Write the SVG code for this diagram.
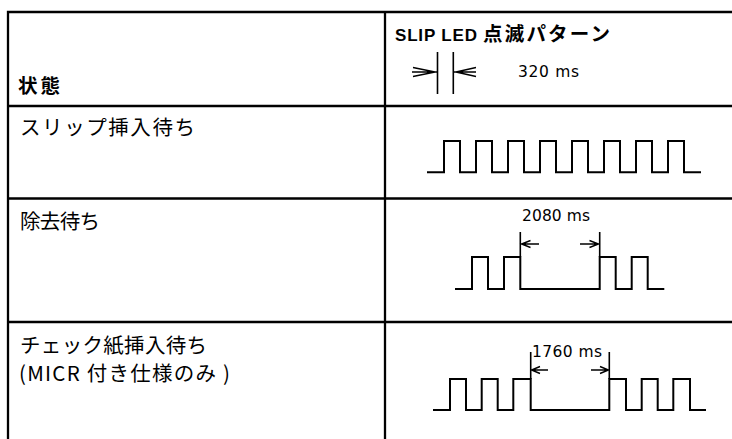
<svg xmlns="http://www.w3.org/2000/svg" width="732" height="439" viewBox="0 0 732 439">
<style>
.grid{stroke:#000;stroke-width:2.3;fill:none}
.wave{stroke:#000;stroke-width:2;fill:none;stroke-linejoin:miter}
.ext{stroke:#000;stroke-width:1.6;fill:none}
.arr{stroke:#000;stroke-width:1.4;fill:none}
.lbl{font-family:"Noto Sans CJK JP","DejaVu Sans",sans-serif;font-size:20.5px;fill:#000}
.hdr{font-family:"Liberation Sans","Noto Sans CJK JP",sans-serif;font-weight:bold;font-size:17px;fill:#000}
.hdrj{font-family:"Noto Sans CJK JP",sans-serif;font-weight:bold;font-size:19.5px;fill:#000}
.ms{font-family:"DejaVu Sans",sans-serif;font-size:15.5px;fill:#000}
</style>
<rect width="732" height="439" fill="#fff"/>
<g id="table">
<path class="grid" d="M8 439V12H732M385 12V439M8 106H732M8 198.5H732M8 322H732"/>
</g>
<g id="header-state"><text class="hdrj" x="18" y="93" textLength="42" lengthAdjust="spacing">状態</text></g>
<g id="header-pattern">
<text class="hdr" x="395" y="41"><tspan textLength="82" lengthAdjust="spacing">SLIP LED</tspan><tspan class="hdrj" x="483" textLength="127" lengthAdjust="spacing">点滅パターン</tspan></text>
<path class="ext" d="M437.5 52V94M453.3 52V94"/>
<path class="arr" d="M412 72H437.5M413 67.5L435 72L413 76.5M476 72H453.3M476 67.5L456 72L476 76.5"/>
<text class="ms" x="518" y="77" textLength="61" lengthAdjust="spacing">320 ms</text>
</g>
<g id="row-slip">
<text class="lbl" x="20" y="135" textLength="175" lengthAdjust="spacing">スリップ挿入待ち</text>
<path class="wave" d="M427 172.3H444V141H460V172.3H476V141H492V172.3H508V141H524V172.3H540V141H556V172.3H572V141H588V172.3H604V141H620V172.3H636V141H652V172.3H668V141H684V172.3H701"/>
</g>
<g id="row-remove">
<text class="lbl" x="20" y="229" textLength="80" lengthAdjust="spacing">除去待ち</text>
<text class="ms" x="522" y="221" textLength="68" lengthAdjust="spacing">2080 ms</text>
<path class="wave" d="M455 289H472V257H488V289H504V257H520.3V289H599.7V257H615.7V289H631.7V257H647.7V289H664.3"/>
<path class="ext" d="M520.3 232V257M599.7 232V257"/>
<path class="arr" d="M521 244H539M530.5 240.5L521.5 244L530.5 247.5M580 244H599M589.5 240.5L598.5 244L589.5 247.5"/>
</g>
<g id="row-check">
<text class="lbl" x="20" y="353" textLength="187" lengthAdjust="spacing">チェック紙挿入待ち</text>
<text class="lbl" x="19" y="381" textLength="211" lengthAdjust="spacing">(MICR 付き仕様のみ )</text>
<text class="ms" x="532" y="357" font-size="16" textLength="70" lengthAdjust="spacing">1760 ms</text>
<path class="wave" d="M433 410H450V379H466V410H481.7V379H497.7V410H513.3V379H530.7V410H609.3V379H626V410H641.7V379H657.7V410H673.3V379H690V410H706"/>
<path class="ext" d="M530.7 352V379M609.3 352V379"/>
<path class="arr" d="M531 370H548M540 366.5L531.5 370L540 373.5M591 370H609M600 366.5L608.5 370L600 373.5"/>
</g>
</svg>
